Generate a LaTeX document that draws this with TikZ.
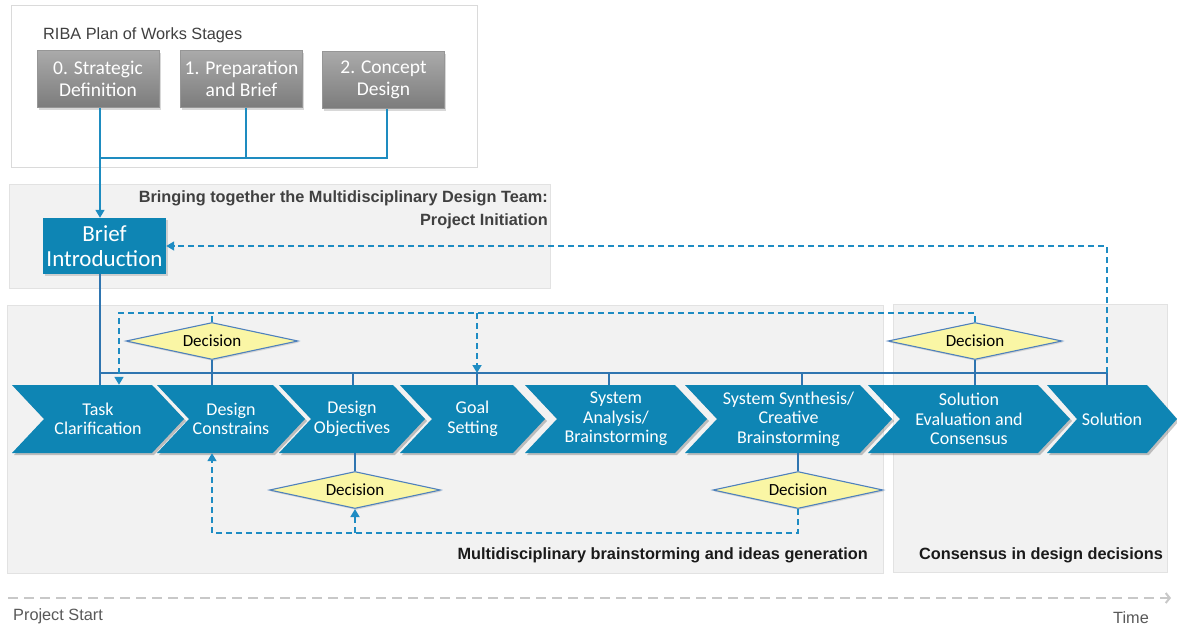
\documentclass[tikz,border=0pt]{standalone}
\usepackage{fontspec}
\setmainfont{Liberation Sans}
\newfontfamily\carl{Carlito}
\usetikzlibrary{arrows.meta,shapes.geometric,shadows,calc}
\definecolor{chevblue}{RGB}{14,133,180}
\definecolor{topblue}{RGB}{30,140,192}
\definecolor{mainblue}{RGB}{47,117,176}
\definecolor{dashblue}{RGB}{30,140,195}
\definecolor{decfill}{RGB}{250,246,165}
\definecolor{decdraw}{RGB}{79,129,189}
\definecolor{regfill}{RGB}{242,242,242}
\definecolor{regdraw}{RGB}{226,226,226}
\definecolor{topdraw}{RGB}{218,218,218}
\definecolor{txtgrey}{RGB}{64,64,64}
\definecolor{labblack}{RGB}{26,26,26}
\definecolor{axgrey}{RGB}{200,200,200}
\definecolor{axtext}{RGB}{89,89,89}
\definecolor{stagetop}{RGB}{170,170,170}
\definecolor{stagebot}{RGB}{124,124,124}
\newcommand\myfontA{\fontsize{16.3}{23}\selectfont}
\newcommand\mychev[5]{%
  \fill[black,opacity=0.22] (#1+2,387) -- (#2+2,387) -- (#2+#3+2,421) -- (#2+2,455) -- (#1+2,455) -- (#1+#3+2,421) -- cycle;
  \fill[chevblue] (#1,385) -- (#2,385) -- (#2+#3,419) -- (#2,453) -- (#1,453) -- (#1+#3,419) -- cycle;
  \node[chevtext, minimum width={#2+#3-#1}] (#4) at ({(#1+#2+#3)/2},419) {#5};}
\begin{document}
\begin{tikzpicture}[x=1pt,y=-1pt,
  topregion/.style={draw=topdraw, fill=white, line width=1},
  region/.style={draw=regdraw, fill=regfill, line width=1},
  stage/.style={top color=stagetop, bottom color=stagebot, draw=stagebot!80!white, line width=0.6,
    text=white, font=\carl\fontsize{19.5}{22}\selectfont, align=center,
    minimum width=122, minimum height=57, inner sep=0,
    drop shadow={shadow xshift=1.5pt, shadow yshift=-2pt, opacity=0.3}},
  briefbox/.style={fill=chevblue, text=white, font=\carl\fontsize{23}{25}\selectfont, align=center,
    minimum width=123, minimum height=56, inner sep=0,
    drop shadow={shadow xshift=1.5pt, shadow yshift=-2pt, opacity=0.3}},
  chevtext/.style={text=white, font=\carl\fontsize{18}{19.5}\selectfont, align=center,
    minimum height=68, inner sep=0},
  decision/.style={diamond, aspect=4.6, fill=decfill, draw=decdraw, line width=1.1,
    minimum width=172, minimum height=37, inner sep=0,
    font=\carl\fontsize{17}{17}\selectfont, text=black,
    drop shadow={shadow xshift=1pt, shadow yshift=-1.5pt, opacity=0.25}},
  topline/.style={draw=topblue, line width=1.6},
  mainline/.style={draw=mainblue, line width=1.3},
  dashline/.style={draw=dashblue, line width=1.7, dash pattern=on 6pt off 4pt},
  arr/.style={-{Triangle[length=8pt,width=9pt]}},
  axisline/.style={draw=axgrey, line width=2, dash pattern=on 10pt off 6pt, -{Straight Barb[length=4pt,width=10pt]}}
]
\useasboundingbox (0,0) rectangle (1177,627);
\fill[white] (0,0) rectangle (1177,627);

% background regions
\draw[topregion] (11,5) rectangle (477,167);
\draw[region] (9,184) rectangle (550,288);
\draw[region] (7,305) rectangle (883,573);
\draw[region] (893,304) rectangle (1167,572);

% RIBA stages
\node[anchor=base west, font=\myfontA, text=txtgrey, inner sep=0] (riba) at (43,39) {RIBA Plan of Works Stages};
\node[stage] (s0) at (98,79) {0. Strategic\\Definition};
\node[stage] (s1) at (241.5,79) {1. Preparation\\and Brief};
\node[stage] (s2) at (383.5,80) {2. Concept\\Design};

% project initiation
\node[anchor=north east, align=right, font=\bfseries\myfontA, text=txtgrey, inner sep=0] (bring) at (548,190)
  {Bringing together the Multidisciplinary Design Team:\\Project Initiation};
\node[briefbox] (brief) at (104.5,246) {Brief\\Introduction};

% chevrons
\mychev{12}{152}{32}{c1}{Task\\Clarification}
\mychev{157}{273}{32}{c2}{Design\\Constrains}
\mychev{279}{393}{32}{c3}{Design\\Objectives}
\mychev{400}{513}{32}{c4}{Goal\\Setting}
\mychev{525}{675}{32}{c5}{System\\Analysis/\\Brainstorming}
\mychev{685}{860}{32}{c6}{System Synthesis/\\Creative\\Brainstorming}
\mychev{868}{1038}{32}{c7}{Solution\\Evaluation and\\Consensus}
\mychev{1047}{1147}{30}{c8}{Solution}

% decisions
\node[decision] (d1) at (212,341) {Decision};
\node[decision, minimum width=171] (d2) at (355,490) {Decision};
\node[decision, minimum width=170] (d3) at (798,490) {Decision};
\node[decision, minimum width=174] (d4) at (975,341) {Decision};

% helper coordinates
\coordinate (k0) at ($(s0.south)+(2,0)$);
\coordinate (k1) at ($(s1.south)+(4.5,0)$);
\coordinate (k2) at ($(s2.south)+(3.5,0)$);
\coordinate (bus) at (0,158);
\coordinate (hl) at (0,373);
\coordinate (top) at (0,313);
\coordinate (bot) at (0,533);
\coordinate (t3) at (353,373);
\coordinate (t4) at (477,373);
\coordinate (t5) at (609,373);
\coordinate (t6) at (802,373);
\coordinate (t8) at (1107,373);
\coordinate (a1) at ($(c1.north)+(21,0)$);
\coordinate (a2) at ($(c2.south)+(-19,0)$);

% RIBA connectors
\draw[topline] (k1) -- (k1 |- bus);
\draw[topline] (k2) -- (k2 |- bus) -- (k0 |- bus);
\draw[topline, arr] (k0) -- (k0 |- brief.north);

% main solid lines
\draw[mainline] (k0 |- brief.south) -- (k0 |- c1.north);
\draw[mainline] (k0 |- hl) -- (t8);
\draw[mainline] (d1.south) -- (d1.south |- c2.north);
\draw[mainline] (t3) -- (t3 |- c3.north);
\draw[mainline] (t4) -- (t4 |- c4.north);
\draw[mainline] (t5) -- (t5 |- c5.north);
\draw[mainline] (t6) -- (t6 |- c6.north);
\draw[mainline] (d4.south) -- (d4.south |- c7.north);
\draw[mainline] (t8) -- (t8 |- c8.north);
\draw[mainline] (d2.north |- c3.south) -- (d2.north);
\draw[mainline] (d3.north |- c6.south) -- (d3.north);

% dashed feedback loops
\draw[dashline, arr] (d4.north) -- (d4.north |- top) -| (a1);
\draw[dashline] (d1.north) -- (d1.north |- top);
\draw[dashline, arr] (t4 |- top) -- (t4);
\draw[dashline, arr] (d3.south) -- (d3.south |- bot) -| (a2);
\draw[dashline, arr] (d2.south |- bot) -- (d2.south);
\draw[dashline, arr] (t8) |- (brief.east);

% region labels
\node[anchor=base east, font=\bfseries\myfontA, text=labblack, inner sep=0] (lab1) at (868,559)
  {Multidisciplinary brainstorming and ideas generation};
\node[anchor=base east, font=\bfseries\myfontA, text=labblack, inner sep=0] (lab2) at (1163,559)
  {Consensus in design decisions};

% time axis
\coordinate (ax0) at (8,598);
\coordinate (ax1) at (1171,598);
\draw[axisline] (ax0) -- (ax1);
\node[anchor=base west, font=\myfontA, text=axtext, inner sep=0] (start) at (13,620) {Project Start};
\node[anchor=base east, font=\myfontA, text=axtext, inner sep=0] (time) at (1149,623) {Time};
\end{tikzpicture}
\end{document}
